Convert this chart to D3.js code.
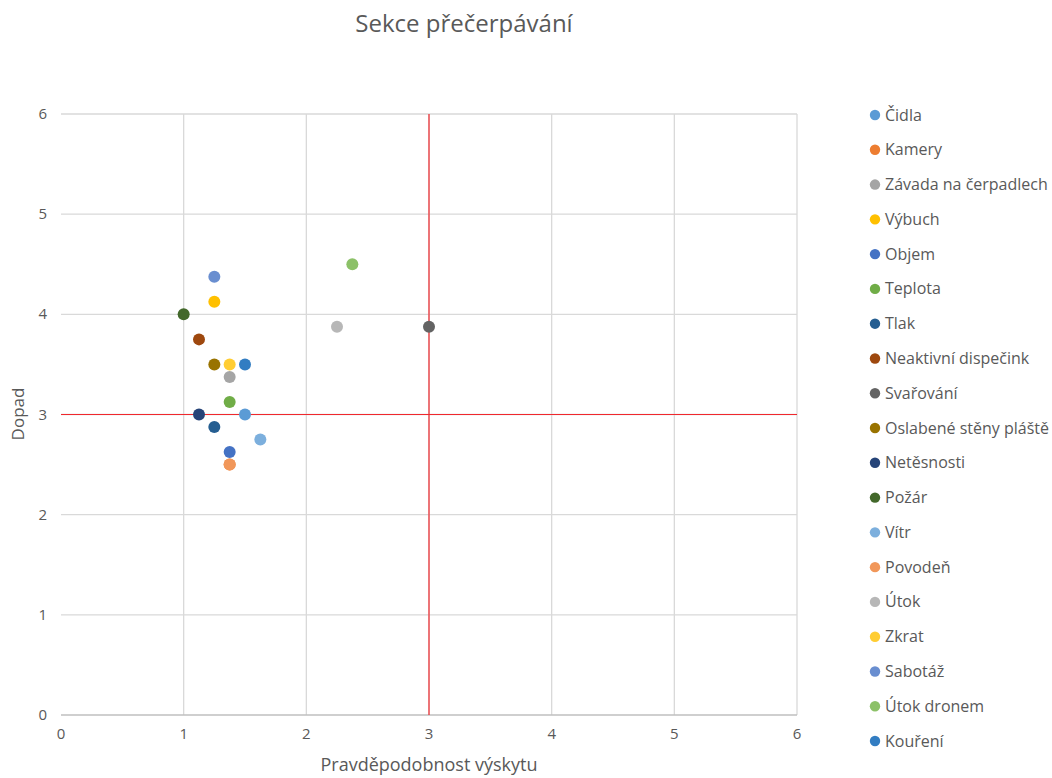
<!DOCTYPE html>
<html>
<head>
<meta charset="utf-8">
<script src="https://cdn.jsdelivr.net/npm/d3@7"></script>
<style>
  body { margin: 0; background: #fff; }
  svg { font-family: "Open Sans", "Noto Sans", sans-serif; }
</style>
</head>
<body>
<svg id="chart" width="1052" height="778"></svg>
<script>
// Risk series: probability (x) and impact (y) per item
const names = ["Čidla","Kamery","Závada na čerpadlech","Výbuch","Objem","Teplota","Tlak",
  "Neaktivní dispečink","Svařování","Oslabené stěny pláště","Netěsnosti","Požár","Vítr",
  "Povodeň","Útok","Zkrat","Sabotáž","Útok dronem","Kouření"];
const probability = [1.5, 1.375, 1.375, 1.25, 1.375, 1.375, 1.25, 1.125, 3, 1.25, 1.125, 1,
  1.625, 1.375, 2.25, 1.375, 1.25, 2.375, 1.5];
const impact = [3, 2.5, 3.375, 4.125, 2.625, 3.125, 2.875, 3.75, 3.875, 3.5, 3, 4, 2.75,
  2.5, 3.875, 3.5, 4.375, 4.5, 3.5];
const colors = ["#5B9BD5","#ED7D31","#A5A5A5","#FFC000","#4472C4","#70AD47","#255E91",
  "#9E480E","#636363","#997300","#264478","#43682B","#7CAFDD","#F1975A","#B7B7B7",
  "#FFCD33","#698ED0","#8CC168","#327DC2"];
const xTicks = [0, 1, 2, 3, 4, 5, 6];
const yTicks = [0, 1, 2, 3, 4, 5, 6];
const thresholdX = 3, thresholdY = 3;

const svg = d3.select("#chart");
const x = d3.scaleLinear().domain([0, 6]).range([61, 797]);
const y = d3.scaleLinear().domain([0, 6]).range([715, 114]);
const textColor = "#595959";

// gridlines
svg.append("g").selectAll("line.v").data(xTicks.filter(d => d > 0)).join("line")
  .attr("x1", d => x(d)).attr("x2", d => x(d)).attr("y1", y(0)).attr("y2", y(6))
  .attr("stroke", "#D9D9D9").attr("stroke-width", 1.3);
svg.append("g").selectAll("line.h").data(yTicks.filter(d => d > 0)).join("line")
  .attr("x1", x(0)).attr("x2", x(6)).attr("y1", d => y(d)).attr("y2", d => y(d))
  .attr("stroke", "#D9D9D9").attr("stroke-width", 1.3);

// bottom axis line
svg.append("line").attr("x1", x(0)).attr("x2", x(6)).attr("y1", y(0)).attr("y2", y(0))
  .attr("stroke", "#BFBFBF").attr("stroke-width", 1.3);

// threshold lines
svg.append("line").attr("x1", x(thresholdX)).attr("x2", x(thresholdX)).attr("y1", y(0)).attr("y2", y(6))
  .attr("stroke", "#F0282D").attr("stroke-width", 1.2);
svg.append("line").attr("x1", x(0)).attr("x2", x(6)).attr("y1", y(thresholdY)).attr("y2", y(thresholdY))
  .attr("stroke", "#F0282D").attr("stroke-width", 1.2);

// tick labels
svg.append("g").selectAll("text").data(xTicks).join("text")
  .attr("x", d => x(d)).attr("y", 739).attr("text-anchor", "middle")
  .attr("font-size", 15).attr("fill", textColor).text(d => d);
svg.append("g").selectAll("text").data(yTicks).join("text")
  .attr("x", 47).attr("y", d => y(d) + 5).attr("text-anchor", "end")
  .attr("font-size", 15).attr("fill", textColor).text(d => d);

// titles
svg.append("text").attr("x", 464).attr("y", 32).attr("text-anchor", "middle")
  .attr("font-size", 24).attr("fill", textColor).text("Sekce přečerpávání");
svg.append("text").attr("x", 429).attr("y", 771).attr("text-anchor", "middle")
  .attr("font-size", 18).attr("fill", textColor).text("Pravděpodobnost výskytu");
svg.append("text").attr("transform", "translate(24,414) rotate(-90)").attr("text-anchor", "middle")
  .attr("font-size", 17).attr("fill", textColor).text("Dopad");

// points
const idx = d3.range(names.length);
svg.append("g").selectAll("circle").data(idx).join("circle")
  .attr("cx", i => x(probability[i])).attr("cy", i => y(impact[i]))
  .attr("r", 6).attr("fill", i => colors[i]);

// legend
const legend = svg.append("g").selectAll("g").data(idx).join("g")
  .attr("transform", i => `translate(875,${115 + i * 34.78})`);
legend.append("circle").attr("r", 5.2).attr("fill", i => colors[i]);
legend.append("text").attr("x", 10).attr("y", 5.5).attr("font-size", 16)
  .attr("fill", textColor).text(i => names[i]);
</script>
</body>
</html>
